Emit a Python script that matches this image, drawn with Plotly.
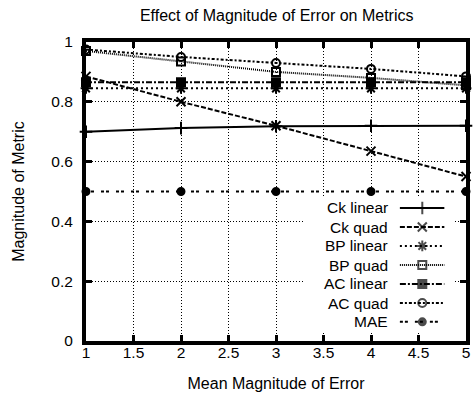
import plotly.graph_objects as go

x_vals = [1, 2, 3, 4, 5]
ck_linear = [0.700, 0.712, 0.718, 0.720, 0.720]
ck_quad = [0.885, 0.800, 0.720, 0.635, 0.550]
bp_linear = [0.845, 0.845, 0.845, 0.845, 0.845]
bp_quad = [0.970, 0.935, 0.900, 0.880, 0.855]
ac_linear = [0.865, 0.865, 0.865, 0.865, 0.865]
ac_quad = [0.975, 0.950, 0.930, 0.910, 0.885]
mae = [0.500, 0.500, 0.500, 0.500, 0.500]

series_names = ["Ck linear", "Ck quad", "BP linear", "BP quad", "AC linear", "AC quad", "MAE"]
series_values = [ck_linear, ck_quad, bp_linear, bp_quad, ac_linear, ac_quad, mae]
dashes = ["solid", "5px,2px", "2px,3px", "1px,1px", "6px,2px,2px,2px", "3px,2px,2px,2px", "3px,2px,3px,7px"]
symbols = ["cross-thin", "x-thin", "asterisk-open", "square-open", "square", "circle-open", "circle"]
msizes = [9, 9, 9, 8, 8, 8, 7]

x_ticks = [1, 1.5, 2, 2.5, 3, 3.5, 4, 4.5, 5]
x_tick_text = ["1", "1.5", "2", "2.5", "3", "3.5", "4", "4.5", "5"]
y_ticks = [0, 0.2, 0.4, 0.6, 0.8, 1]
y_tick_text = ["0", "0.2", "0.4", "0.6", "0.8", "1"]

FONT = "Liberation Sans, Arial, sans-serif"

fig = go.Figure()
for name, vals, d, sym, ms in zip(series_names, series_values, dashes, symbols, msizes):
    fig.add_trace(go.Scatter(
        x=x_vals, y=vals, name=name, mode="lines+markers",
        line=dict(color="black", width=2, dash=d),
        marker=dict(symbol=sym, size=ms, color="black", line=dict(color="black", width=2)),
        cliponaxis=False, showlegend=False,
    ))

# white legend background (hides grid lines)
fig.add_trace(go.Scatter(
    x=[0.576, 0.969, 0.969, 0.576, 0.576], y=[0.027, 0.027, 0.478, 0.478, 0.027],
    mode="lines", fill="toself", fillcolor="white", line=dict(width=0, color="white"),
    xaxis="x2", yaxis="y2", showlegend=False, hoverinfo="skip",
))

# custom legend (labels right aligned, samples on right)
leg_rows = [0.445, 0.381, 0.318, 0.254, 0.191, 0.127, 0.064]
for name, d, sym, ms, ry in zip(series_names, dashes, symbols, msizes, leg_rows):
    fig.add_trace(go.Scatter(
        x=[0.826, 0.885, 0.943], y=[ry, ry, ry], mode="lines+markers",
        line=dict(color="black", width=2, dash=d),
        marker=dict(symbol=sym, size=[0, ms, 0], color="black", line=dict(color="black", width=2)),
        xaxis="x2", yaxis="y2", showlegend=False, hoverinfo="skip", cliponaxis=False,
    ))
    fig.add_annotation(x=0.80, y=ry, xref="paper", yref="paper", text=name,
                       showarrow=False, xanchor="right", yanchor="middle",
                       font=dict(family=FONT, size=15.5, color="black"))

axis_common = dict(
    showline=True, linewidth=4, linecolor="black", mirror="allticks",
    ticks="inside", ticklen=6, tickwidth=3, tickcolor="black",
    showgrid=True, gridcolor="black", gridwidth=1, griddash="1px,2px",
    zeroline=False, tickfont=dict(family=FONT, size=15.5, color="black"),
)

fig.update_layout(
    width=473, height=397,
    margin=dict(l=86, r=3, t=42, b=56),
    paper_bgcolor="white", plot_bgcolor="white",
    font=dict(family=FONT, size=16, color="black"),
    title=dict(text="Effect of Magnitude of Error on Metrics", x=0.585, xanchor="center",
               y=1 - 15 / 397, yanchor="middle", font=dict(family=FONT, size=16, color="black")),
    xaxis=dict(range=[1, 5], tickvals=x_ticks, ticktext=x_tick_text, ticklabelstandoff=-6,
               title=dict(text="Mean Magnitude of Error", font=dict(family=FONT, size=16), standoff=19),
               **axis_common),
    yaxis=dict(range=[0, 1], tickvals=y_ticks, ticktext=y_tick_text, ticklabelstandoff=6,
               title=dict(text="Magnitude of Metric", font=dict(family=FONT, size=16), standoff=24),
               **axis_common),
    xaxis2=dict(range=[0, 1], overlaying="x", visible=False),
    yaxis2=dict(range=[0, 1], overlaying="y", visible=False),
)

fig.write_html("out.html")
